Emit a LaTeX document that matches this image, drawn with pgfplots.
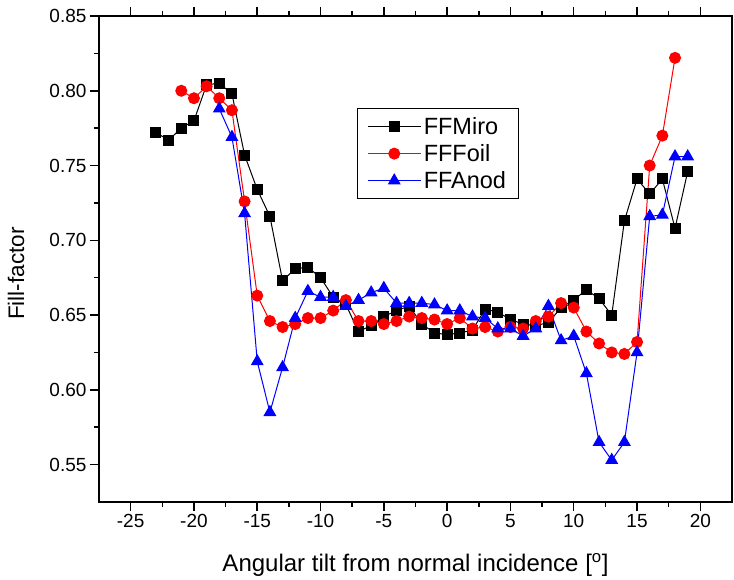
\documentclass[border=0pt]{standalone}
\usepackage{fontspec}
\setmainfont{Liberation Sans}
\usepackage{pgfplots}
\pgfplotsset{compat=1.18}
\begin{document}
\begin{tikzpicture}
\useasboundingbox (-99pt,-77pt) rectangle (635pt,502pt);
\begin{axis}[
  scale only axis, width=633pt, height=486pt,
  xmin=-27.5, xmax=22.5, ymin=0.525, ymax=0.85,
  xtick={-25,-20,-15,-10,-5,0,5,10,15,20},
  ytick={0.55,0.60,0.65,0.70,0.75,0.80,0.85},
  minor x tick num=1, minor y tick num=1,
  tick align=outside, xtick pos=both, ytick pos=left,
  major tick length=9pt, minor tick length=5pt,
  axis line style={line width=1.8pt},
  tick style={line width=1.5pt, black},
  /pgf/number format/assume math mode=true,
  ticklabel style={font=\fontsize{19}{21}\selectfont},
  yticklabel style={/pgf/number format/.cd, fixed, fixed zerofill, precision=2},
  xlabel={Angular tilt from normal incidence [\textsuperscript{o}]},
  ylabel={Fill-factor},
  xlabel style={font=\fontsize{24}{26}\selectfont, at={(axis description cs:0.5,-0.13)}, anchor=center},
  ylabel style={font=\fontsize{22.5}{24}\selectfont, at={(axis description cs:-0.131,0.47)}, anchor=center},
  legend style={at={(rel axis cs:0.408,0.811)}, anchor=north west, draw=black, line width=1pt,
    font=\fontsize{23.5}{26}\selectfont, row sep=4.5pt, inner xsep=10pt, inner ysep=7pt},
  legend cell align=left,
  every axis plot/.append style={legend image code/.code={\draw[mark repeat=2,mark phase=2] plot coordinates {(0pt,0pt) (26pt,0pt) (53pt,0pt)};}},
]
\addplot[black, line width=1pt, mark=square*, mark size=5pt, mark options={solid, fill=black}] coordinates {
(-23,0.772) (-22,0.767) (-21,0.775) (-20,0.780) (-19,0.804) (-18,0.805) (-17,0.798) (-16,0.757)
(-15,0.734) (-14,0.716) (-13,0.673) (-12,0.681) (-11,0.682) (-10,0.675) (-9,0.662) (-8,0.657)
(-7,0.639) (-6,0.643) (-5,0.649) (-4,0.653) (-3,0.656) (-2,0.644) (-1,0.638) (0,0.637)
(1,0.638) (2,0.640) (3,0.654) (4,0.652) (5,0.647) (6,0.644) (7,0.643) (8,0.645)
(9,0.655) (10,0.660) (11,0.667) (12,0.661) (13,0.650) (14,0.713) (15,0.741) (16,0.731)
(17,0.741) (18,0.708) (19,0.746)};
\addlegendentry{FFMiro}
\addplot[red, line width=1pt, mark=*, mark size=5.5pt, mark options={solid, fill=red}] coordinates {
(-21,0.800) (-20,0.795) (-19,0.803) (-18,0.795) (-17,0.787) (-16,0.726) (-15,0.663) (-14,0.646)
(-13,0.642) (-12,0.644) (-11,0.648) (-10,0.648) (-9,0.653) (-8,0.660) (-7,0.646) (-6,0.646)
(-5,0.644) (-4,0.646) (-3,0.649) (-2,0.648) (-1,0.647) (0,0.644) (1,0.648) (2,0.641)
(3,0.642) (4,0.639) (5,0.642) (6,0.641) (7,0.646) (8,0.649) (9,0.658) (10,0.655)
(11,0.639) (12,0.631) (13,0.625) (14,0.624) (15,0.632) (16,0.750) (17,0.770) (18,0.822)};
\addlegendentry{FFFoil}
\addplot[blue, line width=1pt, mark=triangle*, mark size=6.5pt, mark options={solid, fill=blue}] coordinates {
(-18,0.788) (-17,0.769) (-16,0.718) (-15,0.619) (-14,0.585) (-13,0.615) (-12,0.648) (-11,0.666)
(-10,0.662) (-9,0.662) (-8,0.656) (-7,0.660) (-6,0.665) (-5,0.668) (-4,0.658) (-3,0.658)
(-2,0.658) (-1,0.657) (0,0.653) (1,0.653) (2,0.649) (3,0.648) (4,0.641) (5,0.641)
(6,0.636) (7,0.641) (8,0.656) (9,0.633) (10,0.636) (11,0.611) (12,0.565) (13,0.553)
(14,0.565) (15,0.625) (16,0.716) (17,0.717) (18,0.756) (19,0.756)};
\addlegendentry{FFAnod}
\end{axis}
\end{tikzpicture}
\end{document}
